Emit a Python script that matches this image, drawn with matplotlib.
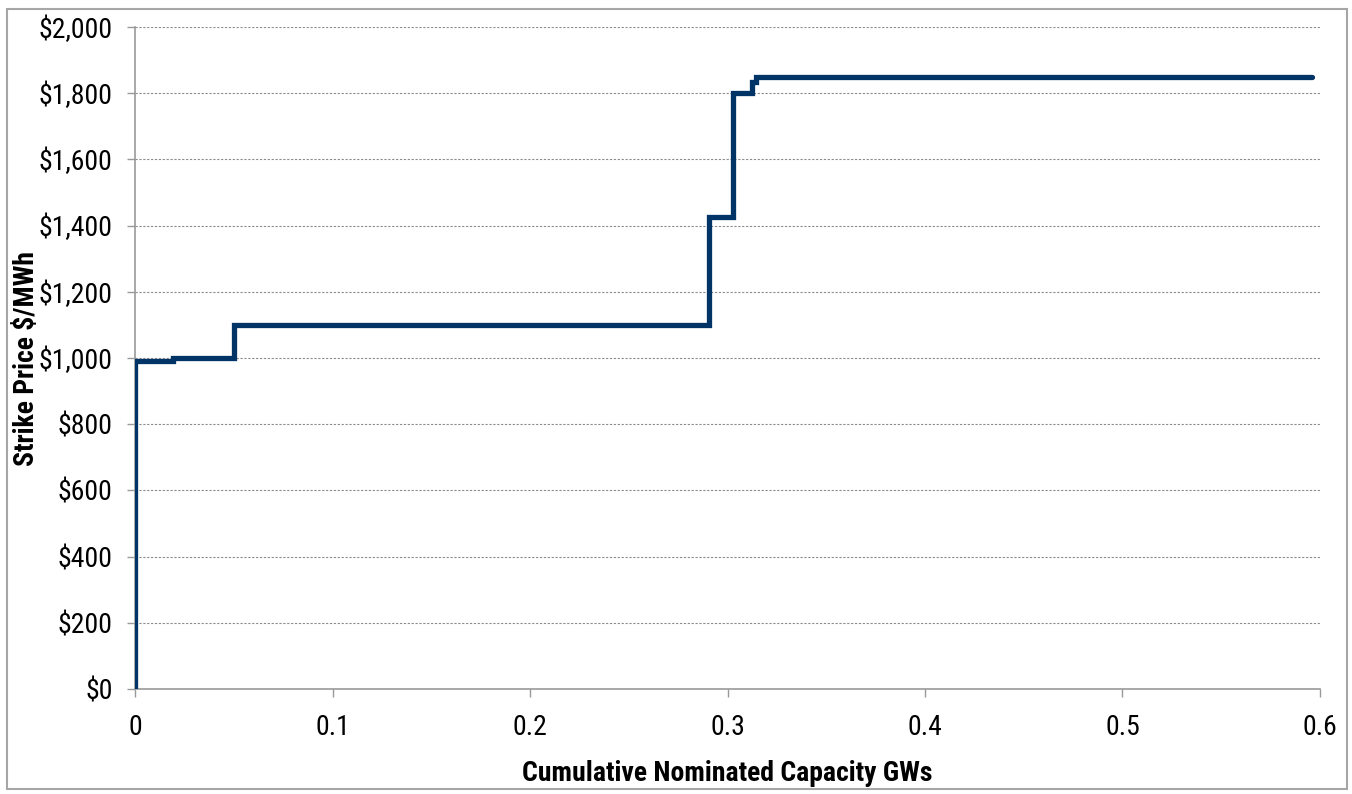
import matplotlib.pyplot as plt
from matplotlib import rcParams, ticker, font_manager
from matplotlib.patches import Rectangle

# step edges (GW) and strike price ($/MWh) holding from each edge onward
capacity_gw = [0.0, 0.0, 0.019, 0.050, 0.2905, 0.303, 0.3125, 0.3145, 0.596]
strike_price = [0, 990, 1000, 1100, 1425, 1800, 1835, 1850, 1850]

x_ticks = [0, 0.1, 0.2, 0.3, 0.4, 0.5, 0.6]
x_tick_labels = ['0', '0.1', '0.2', '0.3', '0.4', '0.5', '0.6']
y_ticks = list(range(0, 2001, 200))


def pick_narrow_font():
    # look for a condensed sans to mimic Arial Narrow
    fonts = font_manager.fontManager.ttflist
    names = {f.name for f in fonts}
    for fam in ['Liberation Sans Narrow', 'Arial Narrow', 'Roboto Condensed',
                'Open Sans Condensed']:
        if fam in names:
            return fam, 'normal', 20
    for f in fonts:
        if f.name in ('Noto Sans', 'Open Sans', 'Roboto') and f.stretch in ('condensed', 'semi-condensed'):
            return f.name, f.stretch, 19
    for f in fonts:
        if f.name == 'DejaVu Sans' and f.stretch == 'condensed':
            return 'DejaVu Sans', 'condensed', 17
    return 'Liberation Sans', 'normal', 16


fam, stretch, size = pick_narrow_font()
rcParams["font.family"] = [fam, "DejaVu Sans"]
rcParams["font.stretch"] = stretch
rcParams["font.size"] = size

fig = plt.figure(figsize=(13.52, 7.94), dpi=100)
ax = fig.add_axes([0.0999, 0.1322, 0.8764, 0.8338])

ax.step(capacity_gw, strike_price, where='post', color='#003466', linewidth=3.8,
        solid_joinstyle='miter', solid_capstyle='round', zorder=3)

ax.set_xlim(0, 0.6)
ax.set_ylim(0, 2000)
ax.set_xticks(x_ticks)
ax.set_xticklabels(x_tick_labels)
ax.set_yticks(y_ticks)
ax.get_yaxis().set_major_formatter(ticker.FuncFormatter(lambda v, p: '$' + format(int(v), ',')))

ax.grid(axis='y', linestyle=(0, (2, 1.5)), color='#8c8c8c', linewidth=0.8)
for s in ['top', 'right']:
    ax.spines[s].set_visible(False)
for s in ['left', 'bottom']:
    ax.spines[s].set_color('#999999')
    ax.spines[s].set_linewidth(1.2)
ax.tick_params(axis='both', direction='out', length=6, color='#999999', width=1, labelsize=size)
ax.tick_params(axis='x', pad=12)
ax.tick_params(axis='y', pad=10)

ax.set_xlabel('Cumulative Nominated Capacity GWs', fontweight='bold', fontsize=size, labelpad=14)
ax.set_ylabel('Strike Price $/MWh', fontweight='bold', fontsize=size)
ax.yaxis.set_label_coords(-0.080, 0.5)

fig.patches.append(Rectangle((0.005, 0.006), 0.991, 0.983, transform=fig.transFigure,
                             fill=False, edgecolor='#a6a6a6', linewidth=1.5))

plt.savefig('out.png', dpi=100)
